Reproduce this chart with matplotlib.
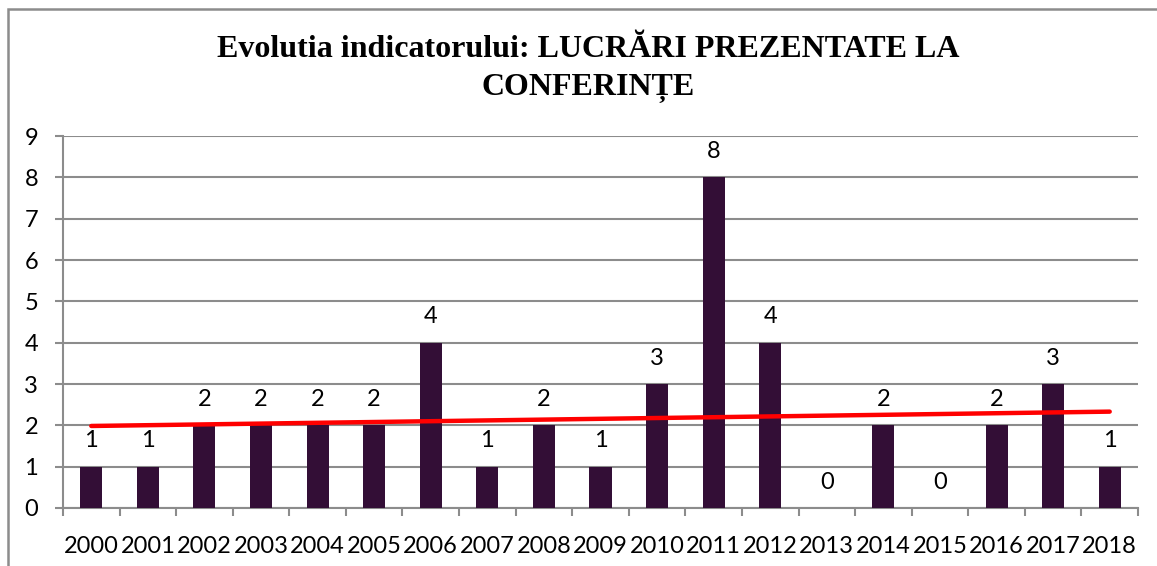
import matplotlib
matplotlib.use("Agg")
import matplotlib.pyplot as plt
import numpy as np
from matplotlib.patches import Rectangle

years = [str(y) for y in range(2000, 2019)]
values = [1, 1, 2, 2, 2, 2, 4, 1, 2, 1, 3, 8, 4, 0, 2, 0, 2, 3, 1]
title = "Evolutia indicatorului: LUCRĂRI PREZENTATE LA\nCONFERINȚE"
yticks = list(range(0, 10))

bar_color = "#330E36"
grid_color = "#8C8C8C"

fig = plt.figure(figsize=(11.57, 5.66), dpi=100)
ax = fig.add_axes([63/1157, 1-508/566, (1138-63)/1157, (508-136)/566])

x = np.arange(len(years))
ax.bar(x, values, width=0.39, color=bar_color, zorder=3)

coef = np.polyfit(x, values, 1)
trend = np.polyval(coef, x)
ax.plot([x[0], x[-1]], [trend[0], trend[-1]], color="#FF0000", lw=3.2,
        solid_capstyle="round", zorder=4)

for xi, v in zip(x, values):
    ax.annotate(str(v), (xi, v), xytext=(0, 11), textcoords="offset points",
                ha="center", va="bottom", fontsize=17, family="Lato", color="black")

ax.set_xlim(-0.5, len(years) - 0.5)
ax.set_ylim(0, 9)
ax.set_yticks(yticks)
ax.set_yticklabels([str(t) for t in yticks], fontsize=17, family="Lato")
ax.set_xticks(x)
ax.set_xticklabels(years, fontsize=17, family="Lato")
ax.set_xticks(np.arange(-0.5, len(years)), minor=True)
ax.tick_params(axis="x", which="major", length=0, pad=20)
ax.tick_params(axis="x", which="minor", length=6, width=1.5, color=grid_color, direction="out")
ax.tick_params(axis="y", length=6, width=1.5, color=grid_color, pad=12)
ax.yaxis.grid(True, color=grid_color, lw=1.5, zorder=0)
for s in ["top", "right"]:
    ax.spines[s].set_visible(False)
ax.spines["left"].set_color(grid_color)
ax.spines["left"].set_linewidth(1.5)
ax.spines["bottom"].set_color(grid_color)
ax.spines["bottom"].set_linewidth(1.5)

fig.text(588/1157, 1 - 69/566, title, ha="center", va="center", fontsize=23,
         family="Liberation Serif", weight="bold", linespacing=1.4)

fig.patches.append(Rectangle((8/1157, -0.05), 1.2, 1 - 9/566 + 0.05,
                             transform=fig.transFigure, fill=False,
                             edgecolor=grid_color, lw=1.8))

fig.savefig("out.png", dpi=100)
